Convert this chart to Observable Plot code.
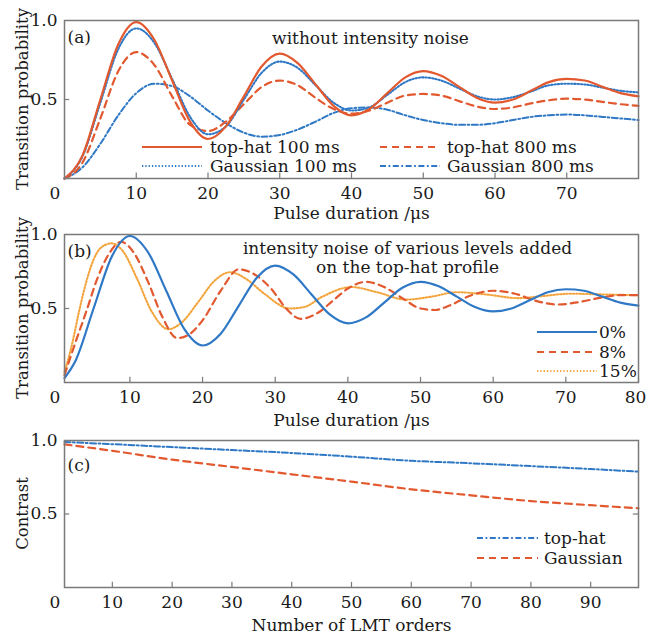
<!DOCTYPE html>
<html><head><meta charset="utf-8">
<script src="https://cdn.jsdelivr.net/npm/d3@7"></script>
<script src="https://cdn.jsdelivr.net/npm/@observablehq/plot@0.6"></script>
<style>html,body{margin:0;padding:0;background:#fff;overflow:hidden;} #chart svg{display:block;overflow:visible;}</style>
</head><body><div id="chart"></div>
<script>
// ---------- Panel (a): without intensity noise ----------
const pulseA = [0,2.5,5,7.5,10,12.5,15,17.5,20,22.5,25,27.5,30,32.5,35,37.5,40,42.5,45,47.5,50,52.5,55,57.5,60,62.5,65,67.5,70,72.5,75,77.5,80];
const topHat100 = [0,0.145,0.50,0.85,0.99,0.88,0.62,0.36,0.25,0.33,0.52,0.71,0.79,0.73,0.595,0.46,0.40,0.44,0.54,0.64,0.68,0.65,0.58,0.51,0.48,0.50,0.555,0.61,0.63,0.62,0.58,0.54,0.52];
const gauss100  = [0,0.14,0.48,0.82,0.95,0.86,0.63,0.39,0.28,0.33,0.50,0.67,0.74,0.70,0.59,0.48,0.43,0.45,0.53,0.61,0.64,0.62,0.57,0.52,0.50,0.515,0.55,0.59,0.60,0.595,0.575,0.555,0.545];
const topHat800 = [0,0.10,0.38,0.68,0.80,0.72,0.52,0.34,0.30,0.36,0.47,0.58,0.62,0.59,0.51,0.44,0.41,0.43,0.48,0.525,0.535,0.525,0.49,0.455,0.44,0.45,0.475,0.495,0.505,0.50,0.485,0.47,0.46];
const gauss800  = [0,0.07,0.22,0.40,0.54,0.60,0.585,0.52,0.43,0.35,0.29,0.265,0.275,0.31,0.36,0.415,0.445,0.45,0.435,0.40,0.37,0.35,0.34,0.34,0.35,0.37,0.39,0.40,0.405,0.40,0.39,0.38,0.37];
const ticksA = [10,20,30,40,50,60,70];

// ---------- Panel (b): intensity noise on top-hat ----------
const pulse0 = [1,2.5,5,7.5,10,12.5,15,17.5,20,22.5,25,27.5,30,32.5,35,37.5,40,42.5,45,47.5,50,52.5,55,57.5,60,62.5,65,67.5,70,72.5,75,77.5,80];
const noise0 = [0.03,0.145,0.50,0.85,0.99,0.88,0.62,0.36,0.25,0.33,0.52,0.71,0.79,0.73,0.595,0.46,0.40,0.44,0.54,0.64,0.68,0.65,0.58,0.51,0.48,0.50,0.555,0.61,0.63,0.62,0.58,0.54,0.52];
const pulse8 = [1,2.5,4,5.5,7,8.8,10.5,12.5,14.5,16.5,18,20,22.5,25,27,29.5,31.5,33.5,36,38,40,42.5,45,47.5,50,52,54,57,60,63,66,69,72,75,77.5,80];
const noise8 = [0.05,0.27,0.48,0.70,0.86,0.95,0.88,0.68,0.44,0.30,0.32,0.42,0.62,0.765,0.735,0.63,0.50,0.43,0.475,0.555,0.635,0.68,0.645,0.57,0.50,0.49,0.52,0.59,0.62,0.60,0.55,0.527,0.545,0.575,0.59,0.59];
const pulse15 = [1,2,3,4,5,6,7.5,9,11,13,15.3,17,19.5,21.5,23.8,26,28.5,32,34,36.5,40.5,44,48,51.5,55,59,63.5,67,70.5,75,80];
const noise15 = [0.07,0.25,0.48,0.68,0.83,0.91,0.94,0.89,0.70,0.48,0.36,0.40,0.55,0.68,0.745,0.70,0.60,0.50,0.51,0.58,0.645,0.61,0.56,0.58,0.61,0.595,0.57,0.585,0.60,0.595,0.59];
const ticksB = [10,20,30,40,50,60,70,80];

// ---------- Panel (c): contrast vs LMT order ----------
const orders = [2,10,20,30,40,50,60,70,80,90,98];
const contrastTopHat = [0.99,0.975,0.955,0.935,0.915,0.89,0.862,0.845,0.826,0.806,0.788];
const contrastGauss  = [0.974,0.93,0.87,0.82,0.77,0.72,0.668,0.627,0.588,0.56,0.539];
const ticksC = [10,20,30,40,50,60,70,80,90];

const yTicks = [0.5, 1.0];

// ---------- styles ----------
const ORANGE = "#e2592f", BLUE = "#2f78c6", YELLOW = "#f4a43c", TEXT = "#1a1a1a", FRAME = "#7a7a7a";
const FONT = "DejaVu Serif";
const S = {
  solidO:  {stroke: ORANGE, strokeWidth: 2.2, dash: null},
  dashO:   {stroke: ORANGE, strokeWidth: 2.2, dash: "7,5"},
  dotB:    {stroke: BLUE, strokeWidth: 2.1, dash: "1.3,2"},
  dashdotB:{stroke: BLUE, strokeWidth: 2, dash: "6,2.5,1.8,2.5"},
  solidB:  {stroke: BLUE, strokeWidth: 2.2, dash: null},
  dotY:    {stroke: YELLOW, strokeWidth: 2.1, dash: "1.3,2"}
};

const rows = (xs, ys) => xs.map((x, i) => ({x, y: ys[i]}));
const line = (xs, ys, st) => Plot.line(rows(xs, ys), {x: "x", y: "y", stroke: st.stroke, strokeWidth: st.strokeWidth, strokeDasharray: st.dash, curve: "monotone-x"});

function legend(items, x0, x1, tx, ys) {
  return () => {
    const g = d3.create("svg:g");
    items.forEach((it, i) => {
      g.append("line").attr("x1", x0).attr("x2", x1).attr("y1", ys[i]).attr("y2", ys[i])
        .attr("stroke", it.st.stroke).attr("stroke-width", it.st.strokeWidth)
        .attr("stroke-dasharray", it.st.dash);
      g.append("text").attr("x", tx).attr("y", ys[i]).attr("dy", "0.35em")
        .attr("text-anchor", "start").attr("fill", TEXT).text(it.label);
    });
    return g.node();
  };
}

// rotated y-axis title, centred on the frame
function yTitle(label) {
  return (index, scales, values, dim) => {
    const cy = (dim.marginTop + dim.height - dim.marginBottom) / 2;
    const g = d3.create("svg:g");
    g.append("text").attr("transform", `translate(22,${cy}) rotate(-90)`)
      .attr("text-anchor", "middle").attr("dy", "0.35em").attr("fill", TEXT)
      .style("font-size", "16.5px").text(label);
    return g.node();
  };
}

function common(xTicks, xLabel, yLabel, x0, x1, labelDy, extra, lastDx = 0) {
  const inner = lastDx ? xTicks.slice(0, -1) : xTicks;
  const last = lastDx ? xTicks.slice(-1) : [];
  return [
    Plot.frame({stroke: FRAME, strokeWidth: 1.5}),
    Plot.ruleX(xTicks, {x: d => d, y1: 0, y2: 0.035, stroke: FRAME, strokeWidth: 1.2}),
    Plot.ruleY([0.5], {y: d => d, x1: x0, x2: x0 + (x1 - x0) * 0.009, stroke: FRAME, strokeWidth: 1.2}),
    Plot.text(inner, {x: d => d, text: d => String(d), frameAnchor: "bottom", dy: 15, lineAnchor: "middle", fill: TEXT}),
    Plot.text(last, {x: d => d, text: d => String(d), frameAnchor: "bottom", dx: lastDx, dy: 15, lineAnchor: "middle", fill: TEXT}),
    Plot.text(["0"], {text: d => d, frameAnchor: "bottom-left", dx: -15, dy: 15, lineAnchor: "middle", fill: TEXT}),
    Plot.text(yTicks, {y: d => d, text: d => d.toFixed(1), frameAnchor: "left", dx: -7, textAnchor: "end", lineAnchor: "middle", fill: TEXT}),
    Plot.text([xLabel], {text: d => d, frameAnchor: "bottom", dy: labelDy, lineAnchor: "middle", fill: TEXT}),
    yTitle(yLabel),
    ...extra
  ];
}

const base = {width: 647, marginLeft: 64, marginRight: 9,
  style: {fontFamily: FONT, fontSize: "17px", background: "transparent", color: TEXT, overflow: "visible"}};

// Panel (a)
const pa = Plot.plot({
  ...base, height: 222, marginTop: 20, marginBottom: 44,
  x: {domain: [0, 80], axis: null},
  y: {domain: [0, 1], axis: null},
  marks: [
    line(pulseA, gauss800, S.dashdotB),
    line(pulseA, topHat800, S.dashO),
    line(pulseA, gauss100, S.dotB),
    line(pulseA, topHat100, S.solidO),
    ...common(ticksA, "Pulse duration /μs", "Transition probability", 0, 80, 35, [
      Plot.text(["(a)"], {text: d => d, frameAnchor: "top-left", dx: 3, dy: 17, textAnchor: "start", lineAnchor: "middle", fill: TEXT}),
      Plot.text(["without intensity noise"], {text: d => d, frameAnchor: "top", dx: 19, dy: 18, lineAnchor: "middle", fill: TEXT}),
      legend([{label: "top-hat 100 ms", st: S.solidO}, {label: "Gaussian 100 ms", st: S.dotB}], 142, 202, 210, [147, 166]),
      legend([{label: "top-hat 800 ms", st: S.dashO}, {label: "Gaussian 800 ms", st: S.dashdotB}], 380, 440, 447, [147, 166])
    ])
  ]
});

// Panel (b)
const pb = Plot.plot({
  ...base, height: 204, marginTop: 12, marginBottom: 44,
  x: {domain: [1, 80], axis: null},
  y: {domain: [0, 1], axis: null},
  marks: [
    line(pulse15, noise15, S.dotY),
    line(pulse8, noise8, S.dashO),
    line(pulse0, noise0, S.solidB),
    ...common(ticksB, "Pulse duration /μs", "Transition probability", 1, 80, 38, [
      Plot.text(["(b)"], {text: d => d, frameAnchor: "top-left", dx: 3, dy: 17, textAnchor: "start", lineAnchor: "middle", fill: TEXT}),
      Plot.text(["intensity noise of various levels added"], {text: d => d, frameAnchor: "top", dx: 56, dy: 14, lineAnchor: "middle", fill: TEXT}),
      Plot.text(["on the top-hat profile"], {text: d => d, frameAnchor: "top", dx: 56, dy: 33, lineAnchor: "middle", fill: TEXT}),
      legend([{label: "0%", st: S.solidB}, {label: "8%", st: S.dashO}, {label: "15%", st: S.dotY}], 537, 597, 599, [110, 130, 149])
    ], -3)
  ]
});

// Panel (c)
const pc = Plot.plot({
  ...base, height: 212, marginTop: 14, marginBottom: 51,
  x: {domain: [2, 98], axis: null},
  y: {domain: [0, 1], axis: null},
  marks: [
    line(orders, contrastGauss, S.dashO),
    line(orders, contrastTopHat, S.dashdotB),
    Plot.ruleY([0.5], {y: d => d, x1: 98 - 96 * 0.009, x2: 98, stroke: FRAME, strokeWidth: 1.2}),
    ...common(ticksC, "Number of LMT orders", "Contrast", 2, 98, 38, [
      Plot.text(["(c)"], {text: d => d, frameAnchor: "top-left", dx: 3, dy: 25, textAnchor: "start", lineAnchor: "middle", fill: TEXT}),
      legend([{label: "top-hat", st: S.dashdotB}, {label: "Gaussian", st: S.dashO}], 477, 538, 544, [112, 132])
    ])
  ]
});

const chart = document.getElementById("chart");
chart.append(pa, pb, pc);
</script></body></html>
